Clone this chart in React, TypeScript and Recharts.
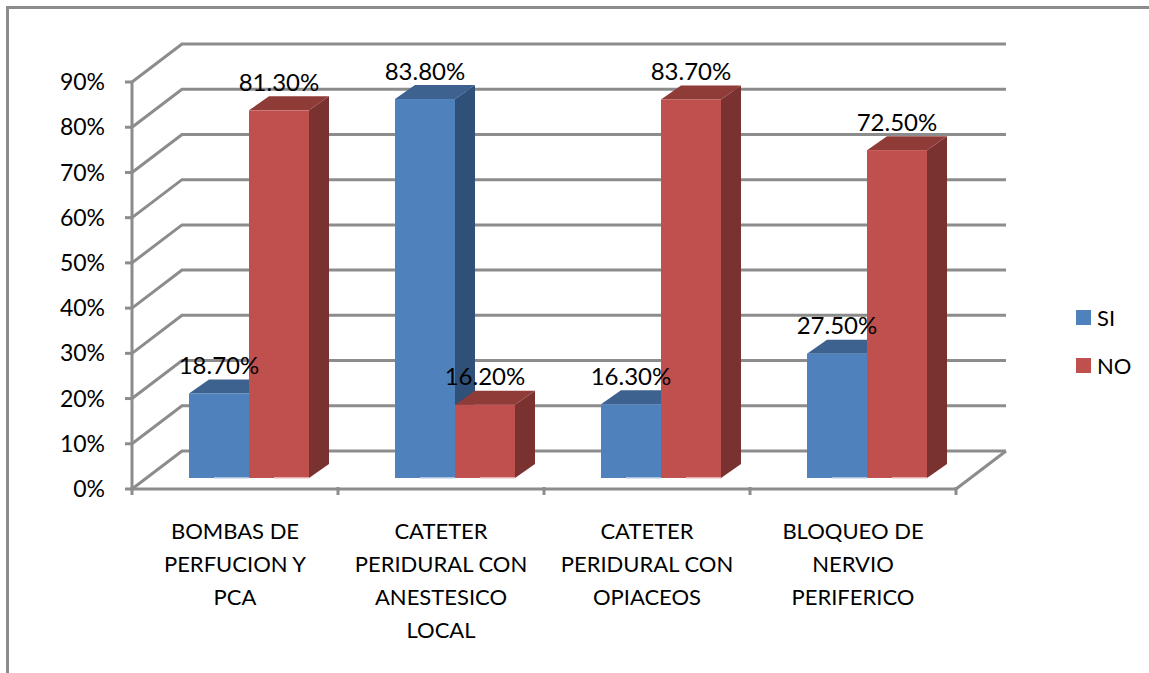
import { Bar, CartesianGrid, ComposedChart, LabelList, Legend, Line, XAxis, YAxis } from "recharts";

const categories = [
  "BOMBAS DE\nPERFUCION Y\nPCA",
  "CATETER\nPERIDURAL CON\nANESTESICO\nLOCAL",
  "CATETER\nPERIDURAL CON\nOPIACEOS",
  "BLOQUEO DE\nNERVIO\nPERIFERICO",
];
const siValues = [18.7, 83.8, 16.3, 27.5];
const noValues = [81.3, 16.2, 83.7, 72.5];
const yTicks = [0, 10, 20, 30, 40, 50, 60, 70, 80, 90];

const data = categories.map((name, i) => ({ name, si: siValues[i], no: noValues[i] }));

const FONT = "Lato, sans-serif";
const GRID = "#8c8c8c";
const BAND = 206;
const BAR_SIZE = 60;
// wall sits this far behind the front axis
const WALL_DX = 50;
const WALL_DY = 38;
// bars stand part way into the floor
const BAR_DX = 14;
const BAR_DY = 11;
const DEPTH_DX = 20;
const DEPTH_DY = 14;

const SI_COLORS = { front: "#4f81bd", top: "#3d628f", side: "#2f5079", foot: "#c9d9ec" };
const NO_COLORS = { front: "#c0504d", top: "#8f3b38", side: "#7a3230", foot: "#efcfce" };

const box3d = (colors: typeof SI_COLORS) => (props: any) => {
  const { x, y, width, height } = props;
  const l = x + BAR_DX;
  const t = y - BAR_DY;
  const r = l + width;
  const b = t + height;
  return (
    <g>
      <polygon
        points={`${r},${t} ${r + DEPTH_DX},${t - DEPTH_DY} ${r + DEPTH_DX},${b - DEPTH_DY} ${r},${b}`}
        fill={colors.side}
      />
      <polygon
        points={`${l},${t} ${r},${t} ${r + DEPTH_DX},${t - DEPTH_DY} ${l + DEPTH_DX},${t - DEPTH_DY}`}
        fill={colors.top}
      />
      <rect x={l} y={t} width={width} height={height} fill={colors.front} />
      <line x1={l + 25} y1={b} x2={r} y2={b} stroke={colors.foot} strokeWidth={1.5} />
    </g>
  );
};

// side wall diagonal plus back wall line for each value
const WallLine = (props: any) => {
  const { x1, y1, x2, index } = props;
  const backY = y1 - WALL_DY;
  const isFloor = Math.abs(y1 - 489) < 1;
  return (
    <g key={index} fill="none" stroke={GRID} strokeWidth={3}>
      <polyline points={`${x1},${y1} ${x1 + WALL_DX},${backY} ${x2 + WALL_DX},${backY}`} stroke={GRID} />
      {isFloor && <line x1={x2} y1={y1} x2={x2 + WALL_DX} y2={backY} />}
    </g>
  );
};

const CategoryTick = (props: any) => {
  const { x, y, payload, index } = props;
  const lines = String(payload.value).split("\n");
  return (
    <g>
      <line x1={x - BAND / 2} y1={y - 8} x2={x - BAND / 2} y2={y} stroke={GRID} strokeWidth={3} />
      {index === categories.length - 1 && (
        <line x1={x + BAND / 2} y1={y - 8} x2={x + BAND / 2} y2={y} stroke={GRID} strokeWidth={3} />
      )}
      <text textAnchor="middle" fontFamily={FONT} fontSize={22} fill="#000">
        {lines.map((line, i) => (
          <tspan key={i} x={x} y={y + 44 + i * 33}>
            {line}
          </tspan>
        ))}
      </text>
    </g>
  );
};

const valueLabel = (shift: number) => (props: any) => {
  const { x, y, value } = props;
  return (
    <text
      x={x + shift + BAR_DX}
      y={y - BAR_DY - 29}
      textAnchor="middle"
      dominantBaseline="central"
      fontFamily={FONT}
      fontSize={24}
      fill="#000"
    >
      {value.toFixed(2)}%
    </text>
  );
};

const LegendBox = ({ payload }: any) => (
  <div style={{ fontFamily: FONT, fontSize: 22, color: "#000" }}>
    {(payload || [])
      .filter((entry: any) => entry.type !== "none")
      .map((entry: any) => (
        <div key={entry.value} style={{ display: "flex", alignItems: "center", height: 48 }}>
          <span style={{ width: 15, height: 15, background: entry.color, marginRight: 6 }} />
          {entry.value}
        </div>
      ))}
  </div>
);

export default function App() {
  return (
    <div style={{ position: "absolute", left: 0, top: 0, width: 1149, height: 673, background: "#fff", overflow: "hidden" }}>
      <div style={{ position: "absolute", left: 6, top: 6, right: 0, bottom: 0, borderLeft: `3px solid ${GRID}`, borderTop: `3px solid ${GRID}` }} />
      <ComposedChart
        width={1149}
        height={673}
        data={data}
        margin={{ top: 82, right: 123, bottom: 0, left: 0 }}
        barGap={0}
        barSize={BAR_SIZE}
        style={{ position: "absolute", left: 0, top: 0 }}
      >
        <CartesianGrid vertical={false} horizontal={WallLine} />
        <XAxis
          dataKey="name"
          height={184}
          interval={0}
          tickLine={false}
          axisLine={{ stroke: GRID, strokeWidth: 3 }}
          tick={CategoryTick}
          tickMargin={0}
        />
        <YAxis
          width={132}
          domain={[0, 90]}
          ticks={yTicks}
          tickFormatter={(v: number) => `${v}%`}
          axisLine={{ stroke: GRID, strokeWidth: 3 }}
          tickLine={{ stroke: GRID, strokeWidth: 3 }}
          tickSize={7}
          tickMargin={20}
          tick={{ fill: "#000", fontFamily: FONT, fontSize: 23 }}
        />
        <Legend
          layout="vertical"
          align="right"
          verticalAlign="top"
          content={LegendBox}
          itemSorter={null}
          wrapperStyle={{ left: 1076, top: 293, width: 70 }}
        />
        <Bar dataKey="si" name="SI" fill={SI_COLORS.front} shape={box3d(SI_COLORS)} isAnimationActive={false} />
        <Bar dataKey="no" name="NO" fill={NO_COLORS.front} shape={box3d(NO_COLORS)} isAnimationActive={false} />
        {/* invisible lines only carry the labels so they sit above every bar */}
        <Line dataKey="si" stroke="none" dot={false} activeDot={false} legendType="none" isAnimationActive={false}>
          <LabelList dataKey="si" content={valueLabel(-BAR_SIZE / 2)} />
        </Line>
        <Line dataKey="no" stroke="none" dot={false} activeDot={false} legendType="none" isAnimationActive={false}>
          <LabelList dataKey="no" content={valueLabel(BAR_SIZE / 2)} />
        </Line>
      </ComposedChart>
    </div>
  );
}
